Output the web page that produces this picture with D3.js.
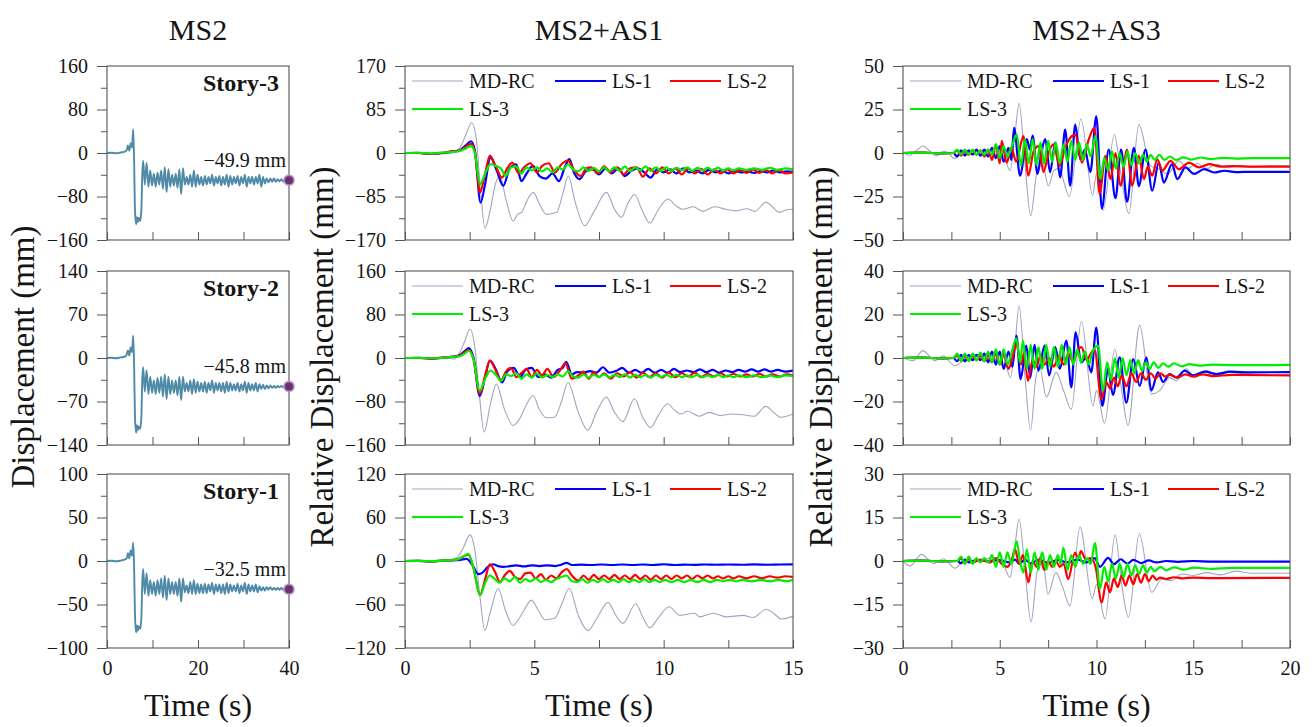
<!DOCTYPE html>
<html>
<head>
<meta charset="utf-8">
<script src="https://cdn.jsdelivr.net/npm/d3@7"></script>
<style>
  body { margin: 0; background: #fff; }
  svg text { font-family: "Liberation Serif", "Times New Roman", serif; fill: #151515; }
</style>
</head>
<body>
<div id="chart"></div>
<script>
// ---- text ----
const colTitles = ["MS2", "MS2+AS1", "MS2+AS3"];
const storyLabels = ["Story-3", "Story-2", "Story-1"];
const residualLabels = ["\u221249.9 mm", "\u221245.8 mm", "\u221232.5 mm"];
const residualValues = [-49.9, -45.8, -32.5];
const seriesNames = ["MD-RC", "LS-1", "LS-2", "LS-3"];

// ---- axis limits (per row) ----
const ms2Limits = [160, 140, 100];
const as1Limits = [170, 160, 120];
const as3Limits = [50, 40, 30];
const timeEnds = [40, 15, 20];
const timeTickSteps = [10, 2.5, 2.5];
const timeLabelSteps = [20, 5, 5];

// ---- MS2 residual displacement histories [t, mm] ----
const ms2Story3 = [[0,0],[1,0.5],[2,-0.5],[3,1],[3.8,2],[4.3,5],[4.6,14],[4.9,4],[5.2,18],[5.5,10],[5.75,44],[5.95,-10],[6.15,-105],[6.4,-131],[6.6,-118],[6.8,-127],[7.0,-119],[7.3,-125],[7.55,-105],[7.75,-40],[7.95,-14],[8.3,-58],[8.7,-18],[9.1,-62],[9.5,-32],[9.9,-60],[10.3,-38],[10.7,-62],[11.1,-36],[11.5,-58],[11.9,-32],[12.3,-66],[12.7,-26],[13.1,-72],[13.5,-30],[13.9,-62],[14.3,-40],[14.7,-60],[15.1,-38],[15.5,-64],[15.9,-30],[16.3,-76],[16.7,-28],[17.1,-58],[17.5,-44],[17.9,-58],[18.3,-40],[18.7,-62],[19.1,-32],[19.5,-62],[19.9,-40],[20.3,-58],[20.7,-44],[21.1,-60],[21.5,-42],[21.9,-58],[22.3,-44],[22.7,-56],[23.1,-40],[23.5,-60],[23.9,-44],[24.3,-56],[24.7,-42],[25.1,-60],[25.5,-44],[25.9,-58],[26.3,-40],[26.7,-62],[27.1,-42],[27.5,-58],[27.9,-44],[28.3,-56],[28.7,-42],[29.1,-60],[29.5,-44],[29.9,-56],[30.3,-40],[30.7,-62],[31.1,-44],[31.5,-56],[31.9,-44],[32.3,-58],[32.7,-44],[33.1,-56],[33.5,-40],[33.9,-62],[34.3,-44],[34.7,-56],[35.1,-47],[35.5,-54],[35.9,-47],[36.3,-53],[36.7,-47],[37.1,-53],[37.5,-48],[37.9,-52],[38.3,-48],[38.7,-52],[39.1,-49],[39.5,-51],[40,-49.9]];
const ms2Story2 = [[0,0],[1,0.5],[2,-0.5],[3,1],[3.8,2],[4.3,5],[4.6,12],[4.9,4],[5.2,17],[5.5,9],[5.75,36],[5.95,-8],[6.15,-95],[6.4,-120],[6.6,-108],[6.8,-116],[7.0,-110],[7.3,-114],[7.55,-95],[7.75,-35],[7.95,-15],[8.3,-54],[8.7,-20],[9.1,-58],[9.5,-30],[9.9,-56],[10.3,-36],[10.7,-58],[11.1,-32],[11.5,-56],[11.9,-30],[12.3,-62],[12.7,-26],[13.1,-66],[13.5,-30],[13.9,-58],[14.3,-36],[14.7,-56],[15.1,-36],[15.5,-60],[15.9,-30],[16.3,-68],[16.7,-30],[17.1,-54],[17.5,-40],[17.9,-54],[18.3,-36],[18.7,-58],[19.1,-34],[19.5,-56],[19.9,-38],[20.3,-54],[20.7,-40],[21.1,-54],[21.5,-38],[21.9,-56],[22.3,-40],[22.7,-52],[23.1,-36],[23.5,-56],[23.9,-40],[24.3,-52],[24.7,-40],[25.1,-54],[25.5,-40],[25.9,-56],[26.3,-38],[26.7,-54],[27.1,-40],[27.5,-52],[27.9,-42],[28.3,-52],[28.7,-40],[29.1,-54],[29.5,-42],[29.9,-52],[30.3,-38],[30.7,-56],[31.1,-40],[31.5,-52],[31.9,-42],[32.3,-52],[32.7,-40],[33.1,-54],[33.5,-42],[33.9,-50],[34.3,-43],[34.7,-50],[35.1,-44],[35.5,-49],[35.9,-44],[36.3,-48],[36.7,-45],[37.1,-48],[37.5,-45],[37.9,-47],[38.3,-45],[38.7,-47],[39.1,-45],[39.5,-47],[40,-45.8]];
const ms2Story1 = [[0,0],[1,0.3],[2,-0.3],[3,0.5],[3.8,1.5],[4.3,3],[4.6,9],[4.9,3],[5.2,12],[5.5,6],[5.75,21],[5.95,-5],[6.15,-62],[6.4,-82],[6.6,-74],[6.8,-80],[7.0,-75],[7.3,-78],[7.55,-66],[7.75,-25],[7.95,-9],[8.3,-38],[8.7,-14],[9.1,-40],[9.5,-22],[9.9,-38],[10.3,-24],[10.7,-40],[11.1,-22],[11.5,-38],[11.9,-20],[12.3,-42],[12.7,-17],[13.1,-45],[13.5,-20],[13.9,-38],[14.3,-24],[14.7,-38],[15.1,-24],[15.5,-40],[15.9,-20],[16.3,-47],[16.7,-20],[17.1,-36],[17.5,-28],[17.9,-37],[18.3,-24],[18.7,-38],[19.1,-22],[19.5,-38],[19.9,-26],[20.3,-37],[20.7,-27],[21.1,-37],[21.5,-26],[21.9,-37],[22.3,-27],[22.7,-35],[23.1,-25],[23.5,-38],[23.9,-27],[24.3,-35],[24.7,-27],[25.1,-37],[25.5,-27],[25.9,-38],[26.3,-25],[26.7,-37],[27.1,-27],[27.5,-35],[27.9,-28],[28.3,-35],[28.7,-26],[29.1,-37],[29.5,-28],[29.9,-35],[30.3,-25],[30.7,-38],[31.1,-27],[31.5,-35],[31.9,-28],[32.3,-35],[32.7,-27],[33.1,-36],[33.5,-29],[33.9,-34],[34.3,-30],[34.7,-34],[35.1,-30],[35.5,-33],[35.9,-30],[36.3,-33],[36.7,-31],[37.1,-33],[37.5,-31],[37.9,-33],[38.3,-31],[38.7,-33],[39.1,-31.5],[39.5,-33],[40,-32.5]];

// ---- MS2+AS1 relative displacement [t, mm] ----
const as1MdR1 = [[0,0],[0.4,0.5],[0.8,-2.5],[1.2,1],[1.6,-1.5],[1.9,2],[2.12,10],[2.35,35],[2.58,59],[2.75,30],[2.9,-60],[3.09,-147],[3.3,-110],[3.5,-60],[3.67,-45],[3.9,-90],[4.18,-133],[4.35,-120],[4.51,-116],[4.7,-95],[4.96,-77],[5.2,-100],[5.47,-120],[5.86,-116],[6.1,-80],[6.31,-45],[6.6,-100],[6.95,-142],[7.3,-115],[7.79,-77],[8.1,-110],[8.37,-126],[8.6,-100],[8.88,-81],[9.15,-110],[9.46,-137],[9.8,-110],[10.17,-90],[10.45,-102],[10.75,-110],[11.14,-105],[11.52,-114],[11.97,-105],[12.4,-110],[12.81,-113],[13.2,-109],[13.52,-114],[13.97,-96],[14.2,-105],[14.48,-116],[14.75,-111],[15,-110]];
const as1L1R1 = [[0,0],[0.5,0.5],[1,-2],[1.5,0],[1.8,3],[2.1,5],[2.35,15],[2.55,23],[2.7,5],[2.92,-97],[3.1,-60],[3.3,-9],[3.55,-35],[3.8,-64],[4.05,-30],[4.3,-22],[4.5,-55],[4.7,-40],[4.95,-25],[5.2,-45],[5.45,-50],[5.7,-40],[5.95,-55],[6.2,-25],[6.35,-12],[6.55,-40],[6.75,-51],[7.0,-35],[7.25,-32],[7.5,-42],[7.75,-30],[8.0,-40],[8.25,-30],[8.5,-45],[8.75,-35],[9.0,-30],[9.25,-38],[9.5,-48],[9.75,-32],[10.0,-38],[10.25,-32],[10.5,-40],[10.75,-30],[11.0,-38],[11.25,-34],[11.5,-40],[11.75,-33],[12.0,-38],[12.25,-34],[12.5,-40],[12.75,-35],[13.0,-38],[13.25,-36],[13.5,-39],[13.75,-35],[14.0,-38],[14.25,-34],[14.5,-38],[14.75,-36],[15,-37]];
const as1L2R1 = [[0,0],[0.5,0],[1,-1.5],[1.5,1],[1.8,3],[2.1,4],[2.35,12],[2.55,18],[2.7,2],[2.9,-77],[3.1,-40],[3.28,-5],[3.5,-25],[3.75,-48],[3.95,-30],[4.15,-19],[4.4,-40],[4.6,-28],[4.85,-20],[5.1,-38],[5.3,-25],[5.55,-20],[5.8,-38],[6.05,-22],[6.3,-15],[6.55,-35],[6.8,-45],[7.0,-30],[7.2,-28],[7.45,-40],[7.7,-26],[7.95,-38],[8.2,-28],[8.45,-42],[8.7,-30],[8.95,-28],[9.2,-46],[9.45,-30],[9.7,-40],[9.95,-28],[10.2,-40],[10.45,-30],[10.7,-42],[10.95,-30],[11.2,-40],[11.45,-31],[11.7,-42],[11.95,-32],[12.2,-40],[12.45,-32],[12.7,-40],[12.95,-33],[13.2,-39],[13.45,-32],[13.7,-39],[13.95,-33],[14.2,-40],[14.45,-33],[14.7,-40],[15,-38]];
const as1L3R1 = [[0,0],[0.5,0.5],[1,-1],[1.5,1],[1.8,2],[2.1,4],[2.35,9],[2.55,14],[2.7,0],[2.9,-61],[3.1,-40],[3.3,-22],[3.5,-25],[3.7,-30],[3.9,-45],[4.1,-28],[4.3,-26],[4.5,-40],[4.7,-28],[4.9,-34],[5.1,-28],[5.3,-36],[5.5,-30],[5.7,-38],[5.9,-28],[6.1,-32],[6.3,-22],[6.5,-32],[6.7,-36],[6.9,-28],[7.1,-35],[7.3,-29],[7.5,-36],[7.7,-28],[7.9,-36],[8.1,-28],[8.3,-35],[8.5,-26],[8.7,-36],[8.9,-28],[9.1,-34],[9.3,-26],[9.5,-35],[9.7,-28],[9.9,-35],[10.1,-28],[10.3,-35],[10.5,-29],[10.7,-34],[10.9,-28],[11.1,-35],[11.3,-29],[11.5,-34],[11.7,-29],[11.9,-34],[12.1,-29],[12.3,-34],[12.5,-30],[12.7,-34],[12.9,-30],[13.2,-33],[13.5,-30],[13.8,-33],[14.1,-29],[14.4,-33],[14.7,-30],[15,-32]];

const as1MdR2 = [[0,0],[0.5,0.5],[1.0,-1],[1.5,1],[1.9,-2],[2.12,10],[2.3,30],[2.51,53],[2.7,20],[2.88,-70],[3.06,-136],[3.3,-85],[3.53,-48],[3.85,-95],[4.18,-124],[4.43,-112],[4.7,-85],[4.95,-69],[5.2,-95],[5.46,-110],[5.78,-109],[6.05,-80],[6.3,-45],[6.7,-100],[7.07,-133],[7.4,-100],[7.78,-72],[8.1,-100],[8.42,-117],[8.87,-75],[9.2,-110],[9.49,-128],[9.8,-105],[10.15,-84],[10.4,-95],[10.67,-103],[10.93,-98],[11.38,-107],[11.76,-100],[12.21,-106],[12.6,-103],[12.98,-104],[13.5,-107],[13.95,-89],[14.25,-100],[14.52,-109],[15,-103]];
const as1L1R2 = [[0,0],[0.5,0.5],[1,-1],[1.5,0.5],[1.8,2],[2.1,5],[2.3,12],[2.47,18],[2.65,0],[2.89,-70],[3.1,-35],[3.28,-5],[3.5,-20],[3.75,-45],[3.95,-25],[4.2,-18],[4.45,-35],[4.65,-22],[4.9,-18],[5.15,-35],[5.4,-30],[5.65,-36],[5.9,-22],[6.1,-18],[6.23,-7],[6.45,-30],[6.65,-26],[6.9,-27],[7.15,-24],[7.4,-27],[7.65,-17],[7.9,-27],[8.15,-24],[8.4,-18],[8.65,-27],[8.9,-22],[9.15,-27],[9.4,-20],[9.65,-27],[9.9,-22],[10.15,-27],[10.4,-20],[10.65,-26],[10.9,-23],[11.15,-26],[11.4,-21],[11.65,-26],[11.9,-22],[12.15,-27],[12.4,-23],[12.65,-26],[12.9,-22],[13.15,-25],[13.4,-21],[13.65,-25],[13.9,-21],[14.15,-25],[14.4,-22],[14.7,-25],[15,-23]];
const as1L2R2 = [[0,0],[0.5,0],[1,-1],[1.5,1],[1.8,2],[2.1,4],[2.3,10],[2.47,15],[2.65,-2],[2.89,-66],[3.1,-32],[3.28,-5],[3.5,-22],[3.7,-42],[3.9,-25],[4.1,-18],[4.3,-35],[4.5,-28],[4.7,-20],[4.9,-35],[5.1,-22],[5.3,-32],[5.5,-20],[5.75,-35],[6.0,-22],[6.2,-10],[6.45,-38],[6.7,-32],[6.9,-25],[7.1,-38],[7.3,-26],[7.5,-35],[7.7,-28],[7.95,-38],[8.2,-28],[8.45,-34],[8.7,-26],[8.95,-36],[9.2,-27],[9.45,-35],[9.7,-28],[9.95,-36],[10.2,-27],[10.45,-35],[10.7,-28],[10.95,-34],[11.2,-27],[11.45,-35],[11.7,-29],[11.95,-34],[12.2,-28],[12.45,-34],[12.7,-29],[12.95,-34],[13.2,-30],[13.45,-34],[13.7,-29],[13.95,-34],[14.2,-30],[14.5,-34],[14.75,-30],[15,-32]];
const as1L3R2 = [[0,0],[0.5,0.5],[1,-0.5],[1.5,0.5],[1.8,2],[2.1,3],[2.3,8],[2.47,13],[2.65,-3],[2.89,-60],[3.1,-38],[3.3,-23],[3.5,-30],[3.72,-42],[3.9,-30],[4.1,-33],[4.3,-28],[4.5,-38],[4.7,-30],[4.9,-36],[5.1,-28],[5.3,-36],[5.5,-31],[5.7,-35],[5.9,-30],[6.1,-34],[6.3,-24],[6.5,-34],[6.7,-36],[6.9,-30],[7.1,-36],[7.3,-31],[7.5,-35],[7.7,-30],[7.9,-36],[8.1,-31],[8.3,-35],[8.5,-30],[8.7,-36],[8.9,-31],[9.1,-35],[9.3,-31],[9.5,-36],[9.7,-31],[9.9,-35],[10.1,-31],[10.3,-35],[10.5,-31],[10.7,-35],[10.9,-32],[11.1,-35],[11.3,-31],[11.5,-35],[11.7,-32],[11.9,-35],[12.1,-31],[12.3,-35],[12.5,-32],[12.7,-35],[12.9,-32],[13.2,-35],[13.5,-32],[13.8,-35],[14.1,-32],[14.4,-35],[14.7,-32],[15,-33]];

const as1MdR3 = [[0,0],[0.5,0.3],[1,-1],[1.5,0.5],[2,4.5],[2.25,18],[2.51,36],[2.7,15],[2.9,-50],[3.09,-96],[3.3,-70],[3.6,-38],[3.9,-70],[4.18,-89],[4.38,-81],[4.6,-68],[4.89,-54],[5.15,-68],[5.41,-81],[5.79,-79],[6.05,-60],[6.35,-38],[6.7,-75],[7.08,-96],[7.4,-80],[7.85,-57],[8.15,-75],[8.43,-86],[8.92,-59],[9.2,-78],[9.46,-92],[9.8,-78],[10.21,-63],[10.62,-75],[11.2,-72],[11.39,-77],[11.91,-72],[12.42,-77],[13.07,-75],[13.45,-78],[13.97,-66.5],[14.25,-72],[14.55,-80],[15,-76]];
const as1L1R3 = [[0,0],[0.5,0.3],[1,-0.5],[1.5,0.5],[2,1],[2.38,3],[2.6,-5],[2.83,-18],[3.0,-16],[3.2,-8],[3.41,-4.5],[3.6,-7],[3.8,-8],[4.0,-7.5],[4.3,-6],[4.6,-7.5],[4.9,-6],[5.2,-7],[5.5,-6],[5.8,-7],[6.05,-5],[6.25,-2.5],[6.45,-5.5],[6.8,-5],[7.2,-5.5],[7.6,-4.8],[8.0,-5.5],[8.4,-4.8],[8.8,-5.5],[9.2,-4.8],[9.6,-5.5],[10,-4.5],[10.4,-5.5],[10.8,-5],[11.2,-5.3],[11.6,-4.8],[12,-5.2],[12.5,-4.8],[13,-5.2],[13.5,-4.6],[14,-5.2],[14.5,-4.8],[15,-4.6]];
const as1L2R3 = [[0,0],[0.5,0.3],[1,-0.5],[1.5,0.5],[2,2],[2.2,5],[2.45,9],[2.65,-10],[2.9,-47],[3.1,-25],[3.28,-4.5],[3.48,-15],[3.67,-29],[3.85,-20],[4.05,-13.6],[4.25,-22],[4.45,-25],[4.65,-17],[4.85,-16],[5.05,-24],[5.25,-18],[5.45,-26],[5.65,-20],[5.85,-24],[6.05,-16],[6.25,-11],[6.45,-20],[6.7,-27],[6.9,-20],[7.1,-26],[7.3,-19],[7.5,-25],[7.7,-20],[7.9,-25],[8.1,-19],[8.3,-25],[8.5,-20],[8.7,-25],[8.9,-19],[9.1,-25],[9.3,-20],[9.5,-26],[9.7,-20],[9.9,-25],[10.1,-20],[10.3,-25],[10.5,-20],[10.7,-24],[10.9,-20],[11.1,-25],[11.3,-20],[11.5,-24],[11.7,-20],[11.9,-24],[12.1,-21],[12.3,-24],[12.5,-21],[12.7,-24],[12.9,-21],[13.2,-24],[13.5,-21],[13.8,-24],[14.1,-21],[14.4,-23],[14.7,-21],[15,-22]];
const as1L3R3 = [[0,0],[0.5,0.3],[1,-0.3],[1.5,0.5],[2,2],[2.2,5],[2.45,10],[2.65,-10],[2.9,-47],[3.1,-30],[3.28,-20],[3.45,-24],[3.65,-30],[3.85,-24],[4.05,-28],[4.25,-22],[4.45,-30],[4.65,-25],[4.85,-28],[5.05,-24],[5.25,-29],[5.45,-26],[5.65,-29],[5.85,-25],[6.05,-22],[6.25,-20],[6.45,-28],[6.65,-29],[6.85,-25],[7.05,-30],[7.25,-26],[7.45,-29],[7.65,-25],[7.85,-29],[8.05,-26],[8.25,-29],[8.45,-25],[8.65,-29],[8.85,-26],[9.05,-29],[9.25,-25],[9.45,-29],[9.65,-26],[9.85,-29],[10.05,-26],[10.3,-29],[10.55,-26],[10.8,-29],[11.05,-26],[11.3,-29],[11.55,-26],[11.8,-29],[12.05,-26],[12.3,-28],[12.55,-26],[12.8,-28],[13.05,-26],[13.4,-28],[13.75,-26],[14.1,-28],[14.45,-26],[14.75,-28],[15,-26]];

// ---- MS2+AS3 relative displacement [t, mm] ----
const as3MdR1 = [[0,0],[0.35,-1.3],[0.7,1.5],[1.04,4],[1.4,1],[1.73,-1.7],[2.05,1],[2.3,0.5],[2.65,-3.2],[2.9,-1.5],[3.15,1.5],[3.45,0],[3.75,1],[4.05,-0.5],[4.35,1.5],[4.65,0.5],[4.95,1],[5.25,-3],[5.53,-10],[5.78,10],[6.0,28.6],[6.3,-6],[6.6,-36],[6.9,-12],[7.15,-3],[7.52,-19],[7.8,-10],[8.05,-9],[8.6,-25],[9.2,19.5],[9.8,-24.4],[10.0,-12],[10.34,-33],[10.92,10.6],[11.3,-15],[11.67,-34.8],[12.19,16.3],[12.79,-7.4],[13.2,-9],[13.66,-12],[14.26,-4.5],[14.7,-9],[15.2,-6],[15.7,-9],[16.2,-6.5],[16.8,-8.5],[17.4,-7],[18,-8],[19,-7.4],[20,-7.4]];
const as3L1R1 = [[0,0],[1,0.3],[2,-0.3],[2.6,0],[2.8,-2],[3.0,1.5],[3.2,-1.5],[3.4,1.5],[3.6,-1],[3.8,2],[4.0,-1.5],[4.2,2],[4.4,-2],[4.6,3],[4.8,-3],[5.0,4],[5.2,-5],[5.45,3],[5.6,-4],[5.74,14.4],[6.05,-13],[6.4,8],[6.55,2],[6.7,10],[6.95,-12],[7.15,0],[7.35,8],[7.6,-11],[7.87,6],[8.12,-14],[8.38,13.4],[8.64,-18.8],[8.9,16.3],[9.16,-3.6],[9.4,2],[9.68,-11],[9.99,21],[10.28,-32],[10.63,2],[10.98,-26],[11.27,2],[11.58,-28],[11.93,3],[12.19,-19],[12.53,2],[12.88,-21.6],[13.22,-5.5],[13.48,-17],[13.9,-6.4],[14.17,-15],[14.6,-8.3],[15.04,-12],[15.56,-9.3],[16.08,-11.2],[16.6,-10.2],[17.2,-11],[18,-10.8],[20,-10.8]];
const as3L2R1 = [[0,0],[1,0.2],[2,-0.2],[2.6,0],[2.8,1.5],[3.0,-1.5],[3.2,1],[3.4,-1],[3.6,1.5],[3.8,-1],[4.0,1.5],[4.2,-2],[4.4,2],[4.6,-4],[4.8,5],[5.0,-6],[5.1,7],[5.36,-5.5],[5.6,3],[5.85,-5],[6.22,9.7],[6.48,-13],[6.75,1],[7.0,4],[7.26,-11],[7.52,0],[7.78,5],[8.09,-7.4],[8.35,2],[8.64,8.7],[8.9,10.6],[9.25,-5.5],[9.6,7.8],[9.89,14.4],[10.16,-23.5],[10.46,-1.7],[10.72,-15],[10.98,0],[11.24,-18.8],[11.58,2],[11.84,-18.8],[12.19,-1.7],[12.45,-15],[12.65,-8],[12.88,-13],[13.14,-3.6],[13.4,-10],[13.83,-4.5],[14.26,-9.3],[14.78,-5.5],[15.3,-8.3],[15.82,-6.4],[16.42,-7.8],[17,-7.5],[18,-7.8],[20,-7.8]];
const as3L3R1 = [[0,0],[1,0.2],[2,-0.2],[2.6,0],[2.8,2],[3.0,-1],[3.2,2],[3.4,-1],[3.6,2],[3.8,-1],[4.0,1.5],[4.2,-1],[4.4,2],[4.6,-1],[4.8,5],[5.0,-3],[5.2,4],[5.4,-2],[5.6,3],[5.88,10.6],[6.1,-7.4],[6.3,7.8],[6.5,-6],[6.7,8],[6.9,-7],[7.1,6],[7.3,-6],[7.5,7],[7.7,-5],[7.9,6],[8.1,-6],[8.3,5],[8.5,-5],[8.7,7],[8.9,-4],[9.1,6],[9.3,-4],[9.5,5],[9.7,-2],[9.94,9.7],[10.2,-15],[10.4,-3],[10.6,-10],[10.8,1],[11.0,-9],[11.2,0],[11.4,-8],[11.6,1],[11.8,-7],[12.0,0],[12.2,-6],[12.4,-1],[12.6,-5],[12.8,-1],[13.0,-4],[13.25,-1],[13.5,-4],[13.8,-2],[14.1,-4],[14.5,-2.5],[14.9,-3.8],[15.4,-2.6],[15.9,-3.5],[16.5,-2.8],[17.2,-3.2],[18,-3],[20,-3]];

const as3MdR2 = [[0,0],[0.52,-1.2],[1.03,3.4],[1.35,1],[1.64,-1.2],[2.07,1],[2.67,-3.5],[3.27,-0.5],[3.96,1],[4.65,-0.8],[5.17,0.5],[5.55,-9],[5.78,5],[6.0,24],[6.3,-8],[6.6,-33],[6.85,-10],[7.06,-4],[7.41,-18],[7.92,-6.6],[8.3,-15],[8.7,-23.5],[9.22,17],[9.82,-22],[10.0,-15],[10.42,-30],[10.94,4],[11.3,-15],[11.63,-31],[12.23,15],[12.83,-16.6],[13.26,-15],[13.78,-9],[14.13,-10.5],[14.64,-5],[15.07,-9],[15.68,-5.8],[16.28,-8],[16.88,-6.6],[17.74,-7.4],[19,-7.8],[20,-7.8]];
const as3L1R2 = [[0,0],[1,0.2],[2,-0.2],[2.6,0],[2.8,-1.5],[3.0,1.5],[3.2,-1.5],[3.4,1.5],[3.6,-1],[3.8,1.5],[4.0,-1],[4.2,2],[4.4,-2],[4.6,3],[4.8,-3],[5.0,3],[5.2,-5],[5.45,3],[5.65,-4],[5.86,10.3],[6.08,-9.7],[6.37,5.7],[6.58,-9],[6.8,6],[7.0,-5.8],[7.32,5.7],[7.55,-8],[7.87,5],[8.1,-5],[8.44,8],[8.7,-13.5],[8.92,11.8],[9.22,-2],[9.47,0.5],[9.73,-6.6],[9.99,14],[10.3,-22],[10.6,-5],[10.85,-17],[11.2,0.3],[11.54,-20.5],[11.9,-0.5],[12.23,-12.8],[12.58,0.3],[12.83,-15],[13.18,-6.6],[13.44,-11],[13.78,-7.4],[14.13,-9],[14.56,-5.8],[14.99,-8],[15.6,-6.3],[16.2,-7.4],[16.9,-6.3],[18,-6.6],[20,-6.5]];
const as3L2R2 = [[0,0],[1,0.2],[2,-0.2],[2.6,0],[2.8,1],[3.0,-1],[3.2,1],[3.4,-1],[3.6,1],[3.8,-1],[4.0,1],[4.2,-1.5],[4.4,1.5],[4.6,-2],[4.8,2],[5.0,-3],[5.2,2],[5.45,-5],[5.65,0],[5.86,6.5],[6.1,-3],[6.25,2],[6.46,-10.5],[6.7,-1],[6.9,-4],[7.1,1],[7.3,-3],[7.55,0],[7.8,-4],[8.05,1],[8.3,-3],[8.55,2],[8.8,-2],[9.0,3],[9.22,5],[9.5,-1],[9.7,2],[9.9,4],[10.25,-19],[10.5,-11],[10.7,-14],[10.9,-9],[11.1,-13],[11.3,-8],[11.55,-13],[11.8,-7],[12.05,-11],[12.3,-7],[12.55,-10],[12.8,-7],[13.05,-9.5],[13.3,-7],[13.55,-8.5],[13.78,-7.8],[14.2,-9],[14.6,-7.5],[15,-8.5],[15.5,-7.5],[16,-8.3],[17,-7.8],[20,-8]];
const as3L3R2 = [[0,0],[1,0.2],[2,-0.2],[2.6,0],[2.8,2],[3.0,-1.5],[3.2,2],[3.4,-1.5],[3.6,2],[3.8,-1],[4.0,2.5],[4.2,-1.5],[4.4,3],[4.6,-2],[4.8,4],[5.0,-3],[5.2,4],[5.4,-3],[5.6,2],[5.86,9],[6.05,-2],[6.2,8],[6.4,-5],[6.6,6],[6.8,-5],[7.0,5],[7.2,-5],[7.4,6],[7.6,-4],[7.8,5],[8.0,-4],[8.2,6],[8.4,-3],[8.6,5],[8.8,-3],[9.0,4],[9.2,-2],[9.4,3],[9.6,-3],[9.8,3],[10.08,5.7],[10.34,-15],[10.55,-2],[10.75,-10],[10.95,0],[11.15,-9],[11.35,0],[11.55,-8],[11.75,-1],[11.95,-7],[12.15,-1],[12.35,-6],[12.55,-2],[12.75,-5],[12.95,-2],[13.2,-4.5],[13.45,-2.5],[13.7,-4],[14.0,-2.5],[14.4,-3.8],[14.8,-2.8],[15.3,-3.5],[16,-3],[17,-3.3],[20,-3.2]];

const as3MdR3 = [[0,0],[0.36,-1.7],[0.96,2.3],[1.57,-0.9],[2.08,0.8],[2.69,-2.5],[3.2,0.5],[3.8,0],[4.58,1.1],[5.1,0],[5.53,-5.7],[5.78,5],[6.0,14.5],[6.3,-3],[6.62,-21],[6.9,-5],[7.17,2.9],[7.5,-11.4],[7.9,-4],[8.25,-9],[8.63,-15.4],[9.15,11.7],[9.78,-13],[10.0,-8],[10.44,-20],[10.96,9],[11.3,-8],[11.65,-19.4],[12.21,9.4],[12.85,-10.8],[13.37,-6.3],[13.88,-6.8],[14.4,-4.5],[15,-5],[15.7,-4],[16.4,-4.8],[17.2,-3.5],[18,-4.2],[20,-4.2]];
const as3L1R3 = [[0,0],[1,0.1],[2,-0.1],[2.8,0],[3.0,-0.8],[3.2,0.5],[3.4,-0.5],[3.8,0.3],[4.4,0],[5.0,0.3],[5.5,-0.5],[5.8,0.5],[6.0,-1],[6.3,0.5],[6.6,-0.8],[7.0,0.4],[7.5,-0.6],[8.0,0.3],[8.5,-0.5],[9.0,0.5],[9.5,-0.5],[9.9,1],[10.18,-2],[10.6,1.1],[10.9,-1.1],[11.25,0.6],[11.6,-0.9],[11.9,0.4],[12.3,-0.7],[12.7,0.2],[13.1,-0.5],[13.6,0],[14.2,-0.3],[15,0],[16,-0.2],[20,-0.2]];
const as3L2R3 = [[0,0],[1,0.1],[2,-0.1],[2.8,0],[3.0,0.8],[3.2,-0.5],[3.4,0.6],[3.6,-0.5],[4.0,0.5],[4.5,-0.5],[4.8,1],[5.1,-1],[5.4,-2],[5.6,0],[5.79,4],[6.0,-1],[6.2,2],[6.48,-7.4],[6.7,0],[6.9,-2],[7.1,1],[7.3,-3],[7.5,0],[7.7,-2],[7.9,0],[8.1,-2],[8.3,-1],[8.54,-6.3],[8.89,2.9],[9.05,1],[9.2,3.4],[9.45,0.5],[9.7,1],[9.95,-2],[10.27,-14.3],[10.5,-7.4],[10.7,-10.8],[10.9,-6],[11.1,-9],[11.3,-5],[11.5,-8.5],[11.7,-5],[11.9,-8],[12.1,-4.5],[12.3,-7.5],[12.5,-4.5],[12.7,-7],[12.9,-5],[13.1,-6.5],[13.28,-5.7],[13.6,-6.2],[14,-5.6],[14.5,-6],[15,-5.7],[16,-5.9],[20,-5.8]];
const as3L3R3 = [[0,0],[1,0.1],[2,-0.1],[2.8,0],[3.0,1.5],[3.2,-1],[3.4,1.5],[3.6,-1],[3.8,1],[4.0,-0.5],[4.2,1],[4.4,-0.5],[4.6,2],[4.8,-2],[5.0,3],[5.2,-2],[5.4,3],[5.6,-1],[5.87,6.8],[6.05,0],[6.22,-4],[6.4,4],[6.6,-4],[6.8,3],[7.0,-3],[7.2,3],[7.4,-3],[7.6,2],[7.8,-2],[8.0,2],[8.15,-1],[8.29,4.6],[8.5,-3],[8.7,2],[8.9,-2],[9.1,2],[9.3,-1],[9.5,1],[9.7,-1],[9.92,6.3],[10.18,-9.7],[10.4,-2],[10.6,-7],[10.8,-1],[11.0,-6],[11.2,-1],[11.4,-5.5],[11.6,-1],[11.8,-5],[12.0,-1.5],[12.2,-4.5],[12.4,-1.5],[12.6,-4],[12.8,-2],[13.0,-3.5],[13.3,-2],[13.6,-3.2],[14.0,-2.2],[14.5,-3],[15,-2.3],[16,-2.7],[17,-2.4],[20,-2.4]];

document.addEventListener('DOMContentLoaded', () => {
    const W = 1315, H = 727;
    const svg = d3.select("#chart").append("svg")
        .attr("width", W).attr("height", H);

    const cols = [{ x0: 107, x1: 289 }, { x0: 405, x1: 793 }, { x0: 903, x1: 1290 }];
    const rowTops = [66, 271, 474];
    const panelH = 174;
    const frameColor = "#555";

    const seriesColors = ["#a3a3c2", "#0000ff", "#ff0000", "#00ee00"];
    const seriesWidths = [1.1, 2.2, 2.2, 2.2];

    const limits = [ms2Limits, as1Limits, as3Limits];
    const panelData = [
        [[ms2Story3], [ms2Story2], [ms2Story1]],
        [[as1MdR1, as1L1R1, as1L2R1, as1L3R1], [as1MdR2, as1L1R2, as1L2R2, as1L3R2], [as1MdR3, as1L1R3, as1L2R3, as1L3R3]],
        [[as3MdR1, as3L1R1, as3L2R1, as3L3R1], [as3MdR2, as3L1R2, as3L2R2, as3L3R2], [as3MdR3, as3L1R3, as3L2R3, as3L3R3]]
    ];

    const fmt = d3.format("d");

    cols.forEach((c, ci) => {
        rowTops.forEach((top, ri) => {
            const yMax = limits[ci][ri];
            const x = d3.scaleLinear().domain([0, timeEnds[ci]]).range([c.x0, c.x1]);
            const y = d3.scaleLinear().domain([-yMax, yMax]).range([top + panelH, top]);
            const g = svg.append("g");

            const clipId = `clip-${ci}-${ri}`;
            g.append("clipPath").attr("id", clipId)
                .append("rect")
                .attr("x", c.x0).attr("y", top)
                .attr("width", c.x1 - c.x0).attr("height", panelH);

            // y axis: labelled ticks and minor ticks, both outward
            const yMajor = d3.axisLeft(y)
                .tickValues([-yMax, -yMax / 2, 0, yMax / 2, yMax])
                .tickSize(10).tickPadding(9).tickFormat(fmt);
            const yMinor = d3.axisLeft(y)
                .tickValues([-0.75 * yMax, -0.25 * yMax, 0.25 * yMax, 0.75 * yMax])
                .tickSize(6).tickFormat("");
            const gy = g.append("g").attr("transform", `translate(${c.x0},0)`).call(yMajor);
            const gy2 = g.append("g").attr("transform", `translate(${c.x0},0)`).call(yMinor);

            // x axis: inward ticks
            const step = timeTickSteps[ci], lab = timeLabelSteps[ci];
            const xAxis = d3.axisBottom(x)
                .tickValues(d3.range(0, timeEnds[ci] + 0.001, step))
                .tickSize(-8).tickPadding(13)
                .tickFormat(d => (ri === 2 && Math.abs(d % lab) < 1e-6) ? fmt(d) : "");
            const gx = g.append("g").attr("transform", `translate(0,${top + panelH})`).call(xAxis);

            [gy, gy2, gx].forEach(a => {
                a.select(".domain").remove();
                a.selectAll(".tick line").attr("stroke", frameColor);
                a.selectAll(".tick text")
                    .attr("fill", "#151515")
                    .style("font-size", "20px")
                    .style("font-family", '"Liberation Serif", serif');
            });

            const line = d3.line()
                .x(d => x(d[0])).y(d => y(d[1]))
                .curve(d3.curveMonotoneX);

            const plot = g.append("g").attr("clip-path", `url(#${clipId})`);
            const sers = panelData[ci][ri];
            if (ci === 0) {
                plot.append("path")
                    .datum(sers[0])
                    .attr("fill", "none")
                    .attr("stroke", "#4f8aa8")
                    .attr("stroke-width", 1.9)
                    .attr("stroke-linejoin", "round")
                    .attr("d", line);
            } else {
                sers.forEach((s, si) => {
                    plot.append("path")
                        .datum(s)
                        .attr("fill", "none")
                        .attr("stroke", seriesColors[si])
                        .attr("stroke-width", seriesWidths[si])
                        .attr("stroke-linejoin", "round")
                        .attr("d", line);
                });
            }

            // frame
            g.append("rect")
                .attr("x", c.x0).attr("y", top)
                .attr("width", c.x1 - c.x0).attr("height", panelH)
                .attr("fill", "none").attr("stroke", frameColor).attr("stroke-width", 1.1);

            if (ci === 0) {
                g.append("text")
                    .attr("x", c.x1 - 10).attr("y", top + 25)
                    .attr("text-anchor", "end")
                    .style("font-size", "24px").style("font-weight", "bold")
                    .text(storyLabels[ri]);
                const last = sers[0][sers[0].length - 1];
                g.append("text")
                    .attr("x", c.x1 - 3).attr("y", y(residualValues[ri]) - 13)
                    .attr("text-anchor", "end")
                    .style("font-size", "20px")
                    .text(residualLabels[ri]);
                g.append("circle")
                    .attr("cx", x(last[0])).attr("cy", y(last[1]))
                    .attr("r", 5)
                    .attr("fill", "#6e2f6e")
                    .attr("stroke", "#b79ac4").attr("stroke-opacity", 0.8)
                    .attr("stroke-width", 2);
            } else {
                // legend
                const legendPos = [
                    { lx: 7, ly: 15 }, { lx: 150, ly: 15 }, { lx: 265, ly: 15 }, { lx: 7, ly: 43 }
                ];
                const lg = g.append("g").attr("transform", `translate(${c.x0},${top})`);
                seriesNames.forEach((name, si) => {
                    const p = legendPos[si];
                    lg.append("line")
                        .attr("x1", p.lx).attr("x2", p.lx + 51)
                        .attr("y1", p.ly).attr("y2", p.ly)
                        .attr("stroke", seriesColors[si])
                        .attr("stroke-width", seriesWidths[si]);
                    lg.append("text")
                        .attr("x", p.lx + 57).attr("y", p.ly)
                        .attr("dy", "0.35em")
                        .style("font-size", "20px")
                        .text(name);
                });
            }
        });

        const cx = (c.x0 + c.x1) / 2;
        svg.append("text")
            .attr("x", cx).attr("y", 40)
            .attr("text-anchor", "middle")
            .style("font-size", "30px")
            .text(colTitles[ci]);
        svg.append("text")
            .attr("x", cx).attr("y", 716)
            .attr("text-anchor", "middle")
            .style("font-size", "32px")
            .text("Time (s)");
    });

    const yTitleX = [34, 333, 832];
    const yTitles = ["Displacement (mm)", "Relative Displacement (mm)", "Relative Displacement (mm)"];
    yTitles.forEach((t, i) => {
        svg.append("text")
            .attr("transform", `translate(${yTitleX[i]},357) rotate(-90)`)
            .attr("text-anchor", "middle")
            .style("font-size", "33px")
            .text(t);
    });
});
</script>
</body>
</html>
